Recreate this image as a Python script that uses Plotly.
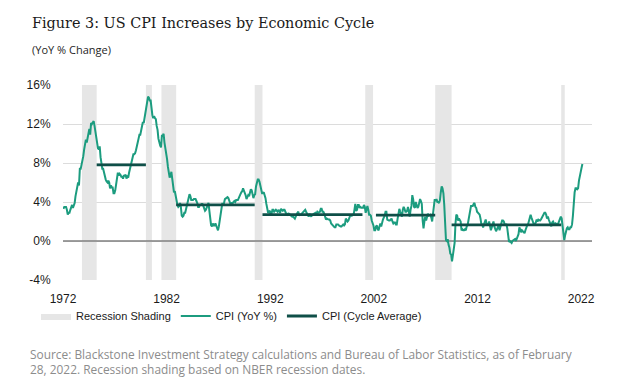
import plotly.graph_objects as go

# ---------------- data ----------------
start_year = 1972
# Monthly CPI YoY %, Jan 1972 - Feb 2022
cpi_1970s = [
    3.3, 3.5, 3.5, 3.5, 3.2, 2.7, 2.9, 2.9, 3.2, 3.4, 3.7, 3.4,
    3.6, 3.9, 4.6, 5.1, 5.5, 6.0, 5.7, 7.4, 7.4, 7.8, 8.3, 8.7,
    9.4, 10.0, 10.4, 10.1, 10.7, 10.9, 11.5, 10.9, 12.1, 12.0, 12.2, 12.3,
    11.8, 11.2, 10.3, 10.2, 9.5, 9.4, 9.7, 8.6, 7.9, 7.4, 7.4, 6.9,
    6.7, 6.3, 6.1, 6.0, 6.2, 6.0, 5.4, 5.7, 5.5, 5.5, 4.9, 4.9,
    5.2, 6.0, 6.4, 7.0, 6.7, 6.9, 6.8, 6.6, 6.6, 6.4, 6.7, 6.7,
    6.8, 6.4, 6.6, 6.5, 7.0, 7.4, 7.7, 7.9, 8.3, 8.9, 8.9, 9.0,
    9.3, 9.9, 10.1, 10.5, 10.9, 10.9, 11.3, 11.8, 12.2, 12.1, 12.6, 13.3,
]
cpi_1980s = [
    13.9, 14.2, 14.8, 14.7, 14.4, 14.4, 13.1, 12.9, 12.6, 12.8, 12.6, 12.5,
    11.8, 11.4, 10.5, 10.0, 9.8, 9.6, 10.8, 10.8, 11.0, 10.1, 9.6, 8.9,
    8.4, 7.6, 6.8, 6.5, 6.7, 7.1, 6.4, 5.9, 5.0, 5.1, 4.6, 3.8,
    3.7, 3.5, 3.6, 3.9, 3.5, 2.6, 2.5, 2.6, 2.9, 2.9, 3.3, 3.8,
    4.2, 4.6, 4.8, 4.6, 4.2, 4.2, 4.2, 4.3, 4.3, 4.3, 4.1, 3.9,
    3.5, 3.5, 3.7, 3.7, 3.8, 3.8, 3.6, 3.3, 3.1, 3.2, 3.5, 3.8,
    3.9, 3.1, 2.2, 1.6, 1.5, 1.8, 1.6, 1.6, 1.8, 1.5, 1.3, 1.1,
    1.5, 2.1, 3.0, 3.8, 3.9, 3.7, 3.9, 4.3, 4.4, 4.5, 4.5, 4.4,
    4.0, 3.9, 3.9, 3.9, 3.9, 4.0, 4.1, 4.0, 4.2, 4.2, 4.2, 4.4,
    4.7, 4.8, 5.0, 5.1, 5.4, 5.2, 5.0, 4.7, 4.3, 4.5, 4.7, 4.6,
]
cpi_1990s = [
    5.2, 5.3, 5.2, 4.7, 4.4, 4.7, 4.8, 5.6, 6.2, 6.3, 6.3, 6.1,
    5.7, 5.3, 4.9, 4.9, 5.0, 4.7, 4.4, 3.8, 3.4, 2.9, 3.0, 3.1,
    2.6, 2.8, 3.2, 3.2, 3.0, 3.1, 3.2, 3.1, 3.0, 3.2, 3.0, 2.9,
    3.3, 3.2, 3.1, 3.2, 3.2, 3.0, 2.8, 2.8, 2.7, 2.8, 2.7, 2.7,
    2.5, 2.5, 2.5, 2.4, 2.3, 2.5, 2.8, 2.9, 3.0, 2.6, 2.7, 2.7,
    2.8, 2.9, 2.9, 3.1, 3.2, 3.0, 2.8, 2.6, 2.5, 2.8, 2.6, 2.5,
    2.7, 2.7, 2.8, 2.9, 2.9, 2.8, 3.0, 2.9, 3.0, 3.0, 3.3, 3.3,
    3.0, 3.0, 2.8, 2.5, 2.2, 2.3, 2.2, 2.2, 2.2, 2.1, 1.8, 1.7,
    1.6, 1.4, 1.4, 1.4, 1.7, 1.7, 1.7, 1.6, 1.5, 1.5, 1.5, 1.6,
    1.7, 1.6, 1.7, 2.3, 2.1, 2.0, 2.1, 2.3, 2.6, 2.6, 2.6, 2.7,
]
cpi_2000s = [
    2.7, 3.2, 3.8, 3.1, 3.2, 3.7, 3.7, 3.4, 3.5, 3.4, 3.4, 3.4,
    3.7, 3.5, 2.9, 3.3, 3.6, 3.2, 2.7, 2.7, 2.6, 2.1, 1.9, 1.6,
    1.1, 1.1, 1.5, 1.6, 1.2, 1.1, 1.5, 1.8, 1.5, 2.0, 2.2, 2.4,
    2.6, 3.0, 3.0, 2.2, 2.1, 2.1, 2.1, 2.2, 2.3, 2.0, 1.8, 1.9,
    1.9, 1.7, 1.7, 2.3, 3.1, 3.3, 3.0, 2.7, 2.5, 3.2, 3.5, 3.3,
    3.0, 3.0, 3.1, 3.5, 2.8, 2.5, 3.2, 3.6, 4.7, 4.3, 3.5, 3.4,
    4.0, 3.6, 3.4, 3.5, 4.2, 4.3, 4.1, 3.8, 2.1, 1.3, 2.0, 2.5,
    2.1, 2.4, 2.8, 2.6, 2.7, 2.7, 2.4, 2.0, 2.8, 3.5, 4.3, 4.1,
    4.3, 4.0, 4.0, 3.9, 4.2, 5.0, 5.6, 5.4, 4.9, 3.7, 1.1, 0.1,
    0.0, 0.2, -0.4, -0.7, -1.3, -1.4, -2.1, -1.5, -1.3, -0.2, 1.8, 2.7,
]
cpi_2010s = [
    2.6, 2.1, 2.3, 2.2, 2.0, 1.1, 1.2, 1.1, 1.1, 1.2, 1.1, 1.5,
    1.6, 2.1, 2.7, 3.2, 3.6, 3.6, 3.6, 3.8, 3.9, 3.5, 3.4, 3.0,
    2.9, 2.9, 2.7, 2.3, 1.7, 1.7, 1.4, 1.7, 2.0, 2.2, 1.8, 1.7,
    1.6, 2.0, 1.5, 1.1, 1.4, 1.8, 2.0, 1.5, 1.2, 1.0, 1.2, 1.5,
    1.6, 1.1, 1.5, 2.0, 2.1, 2.1, 2.0, 1.7, 1.7, 1.7, 1.3, 0.8,
    -0.1, 0.0, -0.1, -0.2, 0.0, 0.1, 0.2, 0.2, 0.0, 0.2, 0.5, 0.7,
    1.4, 1.0, 0.9, 1.1, 1.0, 1.0, 0.8, 1.1, 1.5, 1.6, 1.7, 2.1,
    2.5, 2.7, 2.4, 2.2, 1.9, 1.6, 1.7, 1.9, 2.2, 2.0, 2.2, 2.1,
    2.1, 2.2, 2.4, 2.5, 2.8, 2.9, 2.9, 2.7, 2.3, 2.5, 2.2, 1.9,
    1.6, 1.5, 1.9, 2.0, 1.8, 1.6, 1.8, 1.7, 1.7, 1.8, 2.1, 2.3,
]
cpi_2020s = [
    2.5, 2.3, 1.5, 0.3, 0.1, 0.6, 1.0, 1.3, 1.4, 1.2, 1.2, 1.4,
    1.4, 1.7, 2.6, 4.2, 5.0, 5.4, 5.4, 5.3, 5.4, 6.2, 6.8, 7.0,
    7.5, 7.9,
]

# NBER recessions (decimal years)
recession_start = [1973.83, 1980.0, 1981.5, 1990.5, 2001.17, 2007.92, 2020.08]
recession_end = [1975.25, 1980.58, 1982.92, 1991.25, 2001.92, 2009.5, 2020.42]

# Cycle averages (expansion periods)
cycle_start = [1975.25, 1982.92, 1991.25, 2002.2, 2009.5]
cycle_end = [1980.0, 1990.5, 2000.9, 2007.92, 2020.08]
cycle_avg = [7.8, 3.7, 2.7, 2.65, 1.65]

x_range = [1972, 2023.05]
y_range = [-4, 16]
x_ticks = [1972, 1982, 1992, 2002, 2012, 2022]
x_tick_labels = ["1972", "1982", "1992", "2002", "2012", "2022"]
y_ticks = [-4, 0, 4, 8, 12, 16]
y_tick_labels = ["-4%", "0%", "4%", "8%", "12%", "16%"]

title_text = "Figure 3: US CPI Increases by Economic Cycle"
subtitle_text = "(YoY % Change)"
source_text = ("Source: Blackstone Investment Strategy calculations and Bureau of Labor Statistics, as of February<br>"
               "28, 2022. Recession shading based on NBER recession dates.")

# ---------------- figure ----------------
cpi = cpi_1970s + cpi_1980s + cpi_1990s + cpi_2000s + cpi_2010s + cpi_2020s
dates = [start_year + (i + 0.5) / 12 for i in range(len(cpi))]

W, H = 624, 382
ML, MR, MT, MB = 63, 32, 85, 102
PW, PH = W - ML - MR, H - MT - MB


def px_x(p):
    return (p - ML) / PW


def px_y(p):
    return (H - MB - p) / PH


SHADE = "#e6e6e6"
CPI_COLOR = "#1c9c7f"
AVG_COLOR = "#0f4f48"
TICK_FONT = dict(family="Liberation Sans, Arial, sans-serif", size=12, color="#1a1a1a")

fig = go.Figure()

# recession shading as filled rectangles (gaps separate the polygons)
rx, ry = [], []
for s, e in zip(recession_start, recession_end):
    rx += [s, s, e, e, s, None]
    ry += [y_range[0], y_range[1], y_range[1], y_range[0], y_range[0], None]
fig.add_trace(go.Scatter(x=rx, y=ry, mode="lines", fill="toself", fillcolor=SHADE,
                         line=dict(width=0, color=SHADE), name="Recession Shading",
                         hoverinfo="skip"))

# zero baseline drawn above the shading
fig.add_trace(go.Scatter(x=x_range, y=[0, 0], mode="lines", showlegend=False,
                         line=dict(color="#7f7f7f", width=1.5), hoverinfo="skip"))

fig.add_trace(go.Scatter(x=dates, y=cpi, mode="lines", name="CPI (YoY %)",
                         line=dict(color=CPI_COLOR, width=2)))

avg_x, avg_y = [], []
for s, e, a in zip(cycle_start, cycle_end, cycle_avg):
    avg_x += [s, e, None]
    avg_y += [a, a, None]
fig.add_trace(go.Scatter(x=avg_x, y=avg_y, mode="lines", name="CPI (Cycle Average)",
                         line=dict(color=AVG_COLOR, width=2.8)))

annotations = [
    dict(text=title_text, x=px_x(30), y=px_y(23), xref="paper", yref="paper",
         xanchor="left", yanchor="middle", showarrow=False,
         font=dict(family="DejaVu Serif, Georgia, serif", size=14.4, color="#1a1a1a")),
    dict(text=subtitle_text, x=px_x(30), y=px_y(49), xref="paper", yref="paper",
         xanchor="left", yanchor="middle", showarrow=False,
         font=dict(family="Open Sans, sans-serif", size=11, color="#262626")),
    dict(text=source_text, x=px_x(28), y=px_y(361), xref="paper", yref="paper",
         xanchor="left", yanchor="middle", showarrow=False, align="left",
         font=dict(family="Open Sans, sans-serif", size=11.9, color="#8c8c8c")),
]

fig.update_layout(
    width=W, height=H,
    margin=dict(l=ML, r=MR, t=MT, b=MB),
    paper_bgcolor="white", plot_bgcolor="white",
    annotations=annotations,
    showlegend=True,
    legend=dict(orientation="h", x=px_x(36), y=px_y(316), xanchor="left", yanchor="middle",
                font=dict(family="Liberation Sans, Arial, sans-serif", size=11, color="#1a1a1a"),
                bgcolor="rgba(0,0,0,0)", itemwidth=30, tracegroupgap=0),
    xaxis=dict(range=x_range, tickvals=x_ticks, ticktext=x_tick_labels,
               showgrid=False, zeroline=False, showline=False,
               ticks="outside", ticklen=8, tickcolor="rgba(0,0,0,0)",
               tickfont=TICK_FONT),
    yaxis=dict(range=y_range, tickvals=y_ticks, ticktext=y_tick_labels,
               showgrid=True, gridcolor="#dcdcdc", gridwidth=1,
               zeroline=False, showline=False,
               ticks="outside", ticklen=9, tickcolor="rgba(0,0,0,0)",
               tickfont=TICK_FONT),
)

fig.write_html("out.html", config={"displayModeBar": False},
               post_script="document.body.style.margin='0px';")
